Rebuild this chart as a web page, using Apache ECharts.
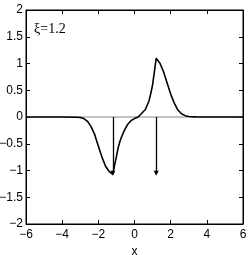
<!DOCTYPE html>
<html><head><meta charset="utf-8">
<script src="https://cdn.jsdelivr.net/npm/echarts@6/dist/echarts.min.js"></script>
<style>html,body{margin:0;padding:0;background:#fff}#c{width:249px;height:255px}</style>
</head><body><div id="c"></div>
<script>
const curveX = [-6,-4,-3.2,-3.0,-2.8,-2.6,-2.4,-2.2,-2.0,-1.8,-1.6,-1.4,-1.2,-1.1,-1.0,-0.9,-0.8,-0.7,-0.6,-0.4,-0.2,0.0,0.2,0.4,0.6,0.8,0.9,1.0,1.1,1.2,1.3,1.4,1.6,1.8,2.0,2.2,2.4,2.6,2.8,3.0,3.4,4,6];
const curveY = [0,0,-0.005,-0.01,-0.03,-0.08,-0.18,-0.33,-0.54,-0.75,-0.92,-1.02,-1.07,-0.90,-0.74,-0.57,-0.45,-0.36,-0.28,-0.15,-0.07,-0.03,0.0,0.07,0.14,0.30,0.44,0.60,0.85,1.10,1.07,1.01,0.85,0.64,0.43,0.26,0.13,0.06,0.025,0.01,0.002,0,0];
const arrowX = [-1.2, 1.2];
const arrowFrom = [0, 0];
const arrowTo = [-1.05, -1.05];
const xTicks = [-6,-4,-2,0,2,4,6];
const yTicks = [-2,-1.5,-1,-0.5,0,0.5,1,1.5,2];
const label = 'ξ=1.2';

const fmt = v => String(v).replace('-', '\u2212');
const chart = echarts.init(document.getElementById('c'));
const tickStyle = {show:true, inside:true, length:4, lineStyle:{color:'#000', width:1}};
const lineStyle = {show:true, onZero:false, lineStyle:{color:'#000', width:1}};
chart.setOption({
  animation:false,
  title:{text:label, left:29, top:17, textStyle:{fontFamily:'Liberation Serif', fontSize:14, fontWeight:'normal', color:'#000'}},
  grid:{left:26, top:10, right:6, bottom:31, show:true, borderColor:'#000', borderWidth:1, outerBoundsMode:'none', containLabel:false},
  xAxis:[
    {type:'value', min:xTicks[0], max:xTicks[xTicks.length-1], interval:2, position:'bottom',
     name:'x', nameLocation:'middle', nameGap:19, nameTextStyle:{fontFamily:'Liberation Sans', fontSize:12, color:'#000'},
     axisLine:lineStyle, axisTick:tickStyle, splitLine:{show:false},
     axisLabel:{formatter:fmt, margin:5, fontFamily:'Liberation Sans', fontSize:12, color:'#000'}},
    {type:'value', min:xTicks[0], max:xTicks[xTicks.length-1], interval:2, position:'top',
     axisLine:lineStyle, axisTick:tickStyle, axisLabel:{show:false}, splitLine:{show:false}}
  ],
  yAxis:[
    {type:'value', min:yTicks[0], max:yTicks[yTicks.length-1], interval:0.5, position:'left',
     axisLine:lineStyle, axisTick:tickStyle, splitLine:{show:false},
     axisLabel:{formatter:fmt, margin:3, fontFamily:'Liberation Sans', fontSize:12, color:'#000'}},
    {type:'value', min:yTicks[0], max:yTicks[yTicks.length-1], interval:0.5, position:'right',
     axisLine:lineStyle, axisTick:tickStyle, axisLabel:{show:false}, splitLine:{show:false}}
  ],
  series:[
    {type:'line', data:[[xTicks[0],0],[xTicks[xTicks.length-1],0]], symbol:'none', lineStyle:{color:'#888', width:1}, z:1},
    {type:'line', data:curveX.map((x,i)=>[x,curveY[i]]), symbol:'none', smooth:false, lineStyle:{color:'#000', width:1.6}, z:3},
    {type:'line', data:[], symbol:'none',
     markLine:{silent:true, symbol:['none','triangle'], symbolSize:[5,5], label:{show:false},
       lineStyle:{color:'#000', width:1.3, type:'solid'},
       data: arrowX.map((x,i)=>[{coord:[x,arrowFrom[i]]},{coord:[x,arrowTo[i]]}])}, z:4}
  ]
});
</script></body></html>
